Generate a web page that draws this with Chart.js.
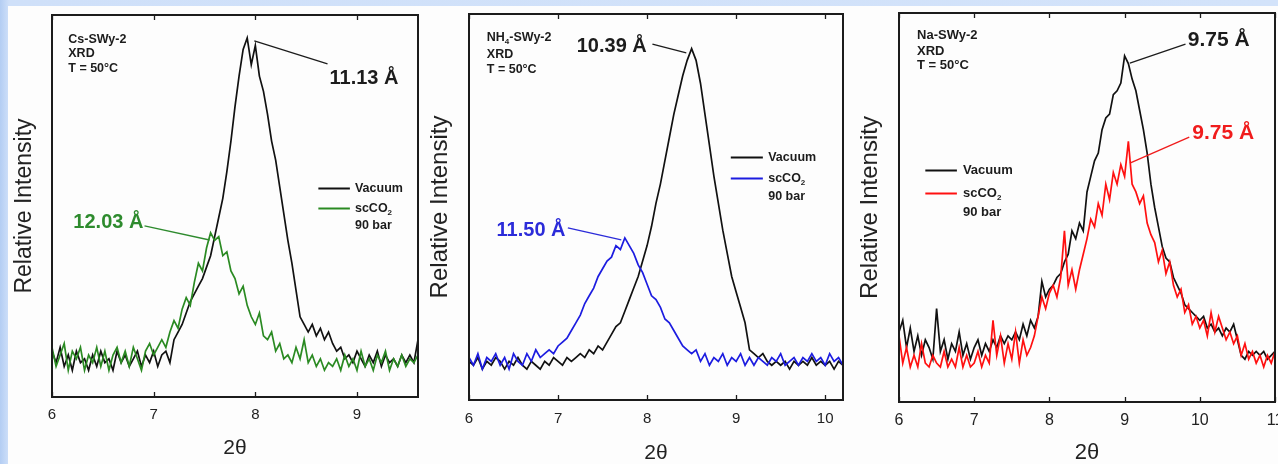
<!DOCTYPE html>
<html>
<head>
<meta charset="utf-8">
<script src="https://cdn.jsdelivr.net/npm/chart.js@4.4.1/dist/chart.umd.min.js"></script>
<style>
html, body { margin: 0; padding: 0; }
body { width: 1278px; height: 464px; overflow: hidden; position: relative;
  background: linear-gradient(to right, #b3cdf3 0px, #cfe0f9 9px, #d3e3fa 100%); }
#sheet { position: absolute; left: 8px; top: 6px; right: 0; bottom: 0; background: #fdfdfd; }
canvas { position: absolute; top: 0; }
</style>
</head>
<body>
<div id="sheet"></div>
<canvas id="cs" width="420" height="470" style="left:8px"></canvas>
<canvas id="nh4" width="435" height="470" style="left:420px"></canvas>
<canvas id="na" width="445" height="470" style="left:850px"></canvas>
<script>
// 2theta scan grids (start, step) for each panel
const p1Start = 6, p1Step = 0.04;   // 6.00 .. 9.60
const p2Start = 6, p2Step = 0.05;   // 6.00 .. 10.20
const p3Start = 6, p3Step = 0.05;   // 6.00 .. 11.00

// relative intensity, 0 = bottom of frame, 100 = top of frame
const p1Vacuum = [
  12, 9, 13, 8, 11, 7, 12, 9, 10, 7,
  11, 8, 12, 9, 10, 7, 12, 9, 11, 8,
  10, 12, 8, 11, 9, 12, 8, 11, 12, 9,
  15, 17, 19, 22, 25, 27, 29, 31, 34, 37,
  42, 47, 52, 59, 67, 76, 84, 91, 94, 87,
  92, 84, 80, 74, 67, 62, 55, 48, 41, 35,
  28, 21, 19, 17, 19, 16, 18, 15, 17, 14,
  12, 13, 10, 11, 9, 12, 10, 8, 11, 9,
  12, 8, 11, 9, 10, 8, 11, 9, 11, 9,
  15
];
const p1Co2 = [
  13, 8, 11, 14, 7, 12, 10, 13, 7, 11,
  9, 13, 8, 12, 7, 11, 13, 9, 12, 8,
  13, 10, 7, 12, 14, 11, 13, 15, 13, 17,
  20, 18, 23, 26, 24, 30, 35, 33, 39, 43,
  41, 42, 37, 38, 33, 31, 27, 29, 24, 21,
  19, 22, 16, 15, 17, 12, 14, 10, 11, 9,
  13, 10, 15, 9, 11, 8, 10, 7, 9, 8,
  10, 7, 11, 8, 10, 7, 12, 8, 10, 7,
  11, 9, 12, 7, 10, 8, 11, 8, 10, 9,
  11
];
const p2Vacuum = [
  10, 9, 11, 8, 10, 9, 11, 10, 8, 10,
  9, 11, 9, 8, 10, 9, 8, 10, 9, 11,
  10, 9, 11, 10, 11, 12, 11, 13, 12, 14,
  13, 15, 17, 19, 20, 23, 26, 29, 32, 36,
  40, 45, 51, 56, 62, 68, 74, 79, 84, 88,
  91, 88, 82, 74, 66, 58, 51, 44, 38, 32,
  28, 24, 20, 13, 12, 11, 12, 10, 9, 10,
  9, 10, 8, 10, 9, 10, 9, 11, 9, 10,
  9, 10, 8, 10, 9
];
const p2Co2 = [
  11, 9, 12, 8, 11, 10, 12, 9, 11, 8,
  12, 10, 9, 12, 10, 13, 11, 12, 13, 12,
  14, 15, 16, 18, 20, 22, 25, 27, 29, 32,
  34, 36, 37, 40, 39, 42, 40, 38, 35, 33,
  30, 27, 26, 24, 21, 20, 18, 16, 14, 13,
  12, 13, 10, 12, 9, 11, 10, 12, 9, 11,
  10, 12, 9, 11, 9, 11, 10, 9, 11, 10,
  12, 9, 10, 11, 9, 11, 10, 12, 10, 11,
  9, 12, 10, 11, 9
];
const p3Vacuum = [
  18, 21, 14, 19, 13, 17, 12, 16, 14, 11,
  24, 13, 16, 11, 15, 13, 18, 12, 15, 11,
  14, 16, 12, 15, 13, 16, 14, 17, 15, 17,
  16, 18, 16, 20, 17, 21, 19, 22, 31, 27,
  29, 30, 32, 33, 36, 38, 44, 42, 46, 44,
  54, 58, 62, 64, 70, 73, 74, 79, 80, 82,
  89, 87, 83, 80, 75, 70, 64, 56, 50, 45,
  40, 37, 36, 32, 30, 28, 25, 24, 23, 22,
  21, 22, 19, 20, 18, 19, 17, 19, 18, 20,
  16, 12, 11, 13, 12, 13, 12, 13, 11, 12,
  13
];
const p3Co2 = [
  17, 10, 14, 9, 12, 9, 15, 10, 9, 12,
  10, 9, 13, 9, 11, 9, 14, 9, 12, 9,
  10, 13, 9, 12, 10, 21, 12, 17, 10, 15,
  11, 18, 10, 16, 12, 14, 17, 22, 27, 24,
  28, 30, 27, 32, 44, 30, 34, 29, 34, 38,
  42, 47, 45, 51, 48, 56, 52, 59, 56, 61,
  58, 67, 56, 54, 51, 53, 46, 43, 41, 36,
  39, 33, 36, 30, 27, 29, 23, 25, 20, 22,
  19, 21, 17, 23, 18, 22, 19, 16, 18, 15,
  17, 12, 15, 11, 13, 10, 12, 9, 12, 10,
  13
];
const xTicks = { step: 1 };
const seriesNames = ['Vacuum', 'scCO_{2}'];
const seriesExtra = '90 bar';

const FONT = "'Liberation Sans', Arial, Helvetica, sans-serif";
const INK = '#1c1c1c';

// draws bold text, "_{..}" parts as subscript, vertically centred on y
function drawRich(ctx, text, x, y, size, color) {
  ctx.fillStyle = color;
  ctx.textBaseline = 'middle';
  ctx.textAlign = 'left';
  let cx = x;
  text.split(/(_\{[^}]*\})/).forEach(p => {
    if (!p) return;
    if (p.startsWith('_{')) {
      const s = p.slice(2, -1);
      ctx.font = 'bold ' + Math.round(size * 0.62) + 'px ' + FONT;
      ctx.fillText(s, cx, y + size * 0.32);
      cx += ctx.measureText(s).width;
    } else {
      ctx.font = 'bold ' + size + 'px ' + FONT;
      ctx.fillText(p, cx, y);
      cx += ctx.measureText(p).width;
    }
  });
}

const notesPlugin = {
  id: 'notes',
  afterDatasetsDraw(chart, args, opts) {
    const {ctx, chartArea: a, scales: {x, y}} = chart;
    ctx.save();
    ctx.strokeStyle = INK;
    ctx.lineWidth = 2;
    ctx.strokeRect(a.left, a.top, a.right - a.left, a.bottom - a.top);
    ctx.lineWidth = 1.3;
    x.ticks.forEach(t => {
      const px = Math.round(x.getPixelForValue(t.value)) + 0.5;
      ctx.beginPath();
      ctx.moveTo(px, a.bottom); ctx.lineTo(px, a.bottom - 5);
      ctx.moveTo(px, a.top); ctx.lineTo(px, a.top + 5);
      ctx.stroke();
    });
    (opts.leaders || []).forEach(l => {
      ctx.strokeStyle = l.color;
      ctx.lineWidth = 1.3;
      ctx.beginPath();
      ctx.moveTo(x.getPixelForValue(l.x1), y.getPixelForValue(l.y1));
      ctx.lineTo(x.getPixelForValue(l.x2), y.getPixelForValue(l.y2));
      ctx.stroke();
    });
    (opts.texts || []).forEach(t => {
      drawRich(ctx, t.t, x.getPixelForValue(t.x), y.getPixelForValue(t.y), t.size, t.color || INK);
    });
    const lg = opts.legend;
    if (lg) {
      chart.data.datasets.forEach((ds, i) => {
        const py = Math.round(y.getPixelForValue(lg.rows[i])) + 0.5;
        ctx.strokeStyle = ds.borderColor;
        ctx.lineWidth = 2;
        ctx.beginPath();
        ctx.moveTo(x.getPixelForValue(lg.x1), py);
        ctx.lineTo(x.getPixelForValue(lg.x2), py);
        ctx.stroke();
        drawRich(ctx, seriesNames[i], x.getPixelForValue(lg.xt), py, lg.size, INK);
      });
      drawRich(ctx, seriesExtra, x.getPixelForValue(lg.xt), y.getPixelForValue(lg.rows[2]), lg.size, INK);
    }
    ctx.restore();
  }
};

function makeChart(id, cfg) {
  const ds = (vals, color, label, order) => ({
    label: label, order: order, borderColor: color, borderWidth: 1.7,
    pointRadius: 0, tension: 0, fill: false,
    data: vals.map((v, i) => ({x: cfg.start + i * cfg.step, y: v}))
  });
  new Chart(document.getElementById(id), {
    type: 'line',
    data: { datasets: [ds(cfg.vac, '#111111', 'Vacuum', 1), ds(cfg.co2, cfg.color, 'scCO2 90 bar', 0)] },
    options: {
      responsive: false, animation: false, events: [],
      layout: { padding: cfg.pad },
      plugins: { legend: {display: false}, tooltip: {enabled: false}, notes: cfg.notes },
      scales: {
        x: {
          type: 'linear', min: cfg.min, max: cfg.max,
          afterFit: s => { s.height = cfg.xh; },
          grid: {display: false, drawTicks: false}, border: {display: false},
          ticks: { stepSize: xTicks.step, includeBounds: false, padding: cfg.tickPad, color: '#222',
                   font: {family: FONT, size: cfg.tickSize} },
          title: { display: true, text: '2θ', color: '#222',
                   font: {family: FONT, size: cfg.titleSize, lineHeight: 1},
                   padding: {top: 0, bottom: cfg.xTitlePad} }
        },
        y: {
          min: 0, max: 100,
          afterFit: s => { s.width = cfg.yw; },
          grid: {display: false, drawTicks: false}, border: {display: false},
          ticks: {display: false},
          title: { display: true, text: 'Relative Intensity', color: '#222',
                   font: {family: FONT, size: cfg.ySize, lineHeight: 1},
                   padding: {top: cfg.yTitlePad, bottom: 0} }
        }
      }
    },
    plugins: [notesPlugin]
  });
}

makeChart('cs', {
  start: p1Start, step: p1Step, vac: p1Vacuum, co2: p1Co2, color: '#2a8a22',
  min: 6, max: 9.6, pad: {top: 15, right: 10, left: 0, bottom: 0},
  yw: 44, xh: 73, ySize: 23, yTitlePad: 5.5, titleSize: 21, xTitlePad: 11.5, tickSize: 15, tickPad: 9,
  notes: {
    texts: [
      {t: 'Cs-SWy-2', x: 6.16, y: 93.5, size: 12.5},
      {t: 'XRD', x: 6.16, y: 89.8, size: 12.5},
      {t: 'T = 50°C', x: 6.16, y: 85.9, size: 12.5},
      {t: '11.13 Å', x: 8.73, y: 83.5, size: 20},
      {t: '12.03 Å', x: 6.21, y: 45.8, size: 20, color: '#2e8b2e'}
    ],
    leaders: [
      {x1: 8.71, y1: 87.2, x2: 7.99, y2: 93.2, color: INK},
      {x1: 6.91, y1: 44.8, x2: 7.55, y2: 41.1, color: '#2e8b2e'}
    ],
    legend: {x1: 8.62, x2: 8.93, xt: 8.98, rows: [54.7, 49.5, 44.8], size: 12.5}
  }
});

makeChart('nh4', {
  start: p2Start, step: p2Step, vac: p2Vacuum, co2: p2Co2, color: '#1c1ce0',
  min: 6, max: 10.2, pad: {top: 14, right: 12, left: 0, bottom: 0},
  yw: 49, xh: 70, ySize: 24, yTitlePad: 8, titleSize: 21, xTitlePad: 6.5, tickSize: 15, tickPad: 10,
  notes: {
    texts: [
      {t: 'NH_{4}-SWy-2', x: 6.20, y: 93.8, size: 12.5},
      {t: 'XRD', x: 6.20, y: 89.6, size: 12.5},
      {t: 'T = 50°C', x: 6.20, y: 85.5, size: 12.5},
      {t: '10.39 Å', x: 7.21, y: 91.5, size: 20},
      {t: '11.50 Å', x: 6.31, y: 44.0, size: 20, color: '#2b2bd9'}
    ],
    leaders: [
      {x1: 8.06, y1: 92.2, x2: 8.44, y2: 89.9, color: INK},
      {x1: 7.11, y1: 44.6, x2: 7.71, y2: 41.5, color: '#2b2bd9'}
    ],
    legend: {x1: 8.94, x2: 9.30, xt: 9.36, rows: [63.0, 57.5, 52.8], size: 12.5}
  }
});

makeChart('na', {
  start: p3Start, step: p3Step, vac: p3Vacuum, co2: p3Co2, color: '#ff1010',
  min: 6, max: 11, pad: {top: 13, right: 20, left: 0, bottom: 0},
  yw: 49, xh: 68, ySize: 24, yTitlePad: 8, titleSize: 22, xTitlePad: 6, tickSize: 16, tickPad: 9.4,
  notes: {
    texts: [
      {t: 'Na-SWy-2', x: 6.24, y: 94.3, size: 13},
      {t: 'XRD', x: 6.24, y: 90.2, size: 13},
      {t: 'T = 50°C', x: 6.24, y: 86.4, size: 13},
      {t: '9.75 Å', x: 9.84, y: 93.1, size: 21},
      {t: '9.75 Å', x: 9.90, y: 69.2, size: 21, color: '#f01c1c'}
    ],
    leaders: [
      {x1: 9.81, y1: 92.0, x2: 9.07, y2: 87.1, color: INK},
      {x1: 9.86, y1: 68.1, x2: 9.07, y2: 61.4, color: '#f01c1c'}
    ],
    legend: {x1: 6.35, x2: 6.77, xt: 6.85, rows: [59.6, 53.7, 48.8], size: 13}
  }
});
</script>
</body>
</html>
